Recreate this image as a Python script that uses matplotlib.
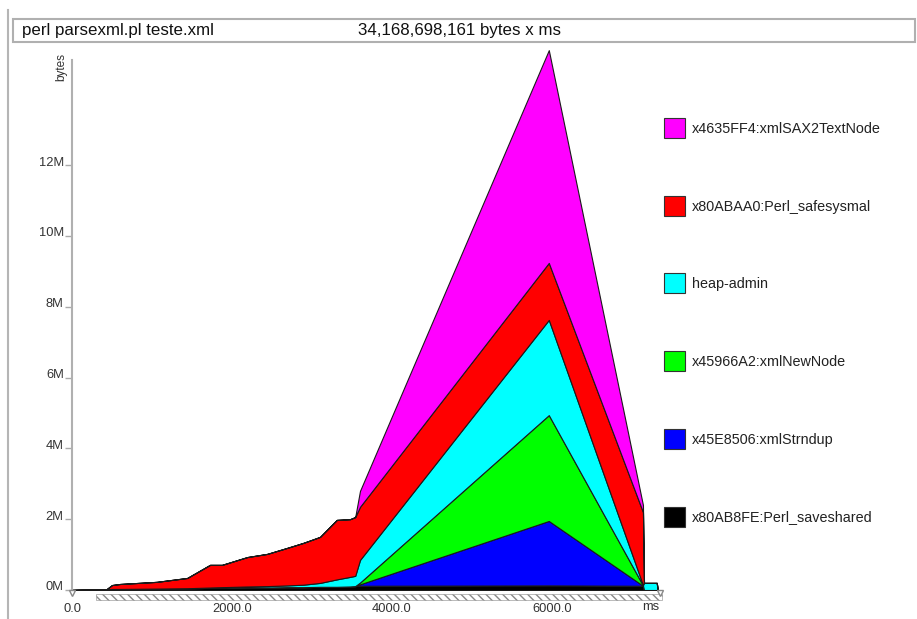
import numpy as np
import matplotlib
matplotlib.use("Agg")
import matplotlib.pyplot as plt
from matplotlib.patches import Rectangle
from matplotlib.lines import Line2D
from matplotlib.transforms import ScaledTranslation

plt.rcParams['font.family'] = ['Liberation Sans', 'DejaVu Sans']

#---DATA (time in ms, memory in MB)

t_ms = [0, 430, 500, 600, 1060, 1440, 1725, 1875, 2190, 2440, 2690,
        2890, 3100, 3310, 3475, 3540, 3600, 5960, 7137, 7150, 7310, 7320]

saveshared = [0, 0.02, 0.03, 0.03, 0.04, 0.05, 0.06, 0.06, 0.07, 0.07, 0.08,
              0.08, 0.09, 0.09, 0.10, 0.11, 0.12, 0.13, 0.12, 0, 0, 0]
strndup = [0, 0, 0, 0, 0, 0, 0, 0, 0, 0, 0,
           0, 0, 0, 0, 0, 0.04, 1.82, 0, 0, 0, 0]
newnode = [0, 0, 0, 0, 0, 0, 0, 0, 0, 0, 0,
           0, 0, 0, 0, 0, 0.05, 2.99, 0.01, 0, 0, 0]
heap_admin = [0, 0, 0, 0, 0, 0, 0.01, 0.02, 0.03, 0.04, 0.05,
              0.07, 0.11, 0.21, 0.27, 0.29, 0.64, 2.69, 0.01, 0.2, 0.2, 0]
safesysmal = [0, 0, 0.11, 0.14, 0.19, 0.29, 0.64, 0.63, 0.83, 0.91, 1.06,
              1.18, 1.30, 1.68, 1.63, 1.66, 1.50, 1.61, 2.06, 0, 0, 0]
textnode = [0, 0, 0, 0, 0, 0, 0, 0, 0, 0, 0,
            0, 0, 0, 0, 0, 0.45, 6.01, 0.2, 0, 0, 0]

labels = ["x80AB8FE:Perl_saveshared", "x45E8506:xmlStrndup",
          "x45966A2:xmlNewNode", "heap-admin",
          "x80ABAA0:Perl_safesysmal", "x4635FF4:xmlSAX2TextNode"]
colors = ["#000000", "#0000ff", "#00ff00", "#00ffff", "#ff0000", "#ff00ff"]

ytick_vals = [0, 2, 4, 6, 8, 10, 12]
xtick_vals = [0, 2000, 4000, 6000]

W, H = 917, 619


def fx(x):
    return x / W


def fy(y):
    return 1 - y / H


#--- Plot

fig = plt.figure(figsize=(W / 100, H / 100), dpi=100)

# outer frame + title box
fig.add_artist(Line2D([fx(8), fx(8)], [fy(10), fy(619)], color='#b5b5b5', lw=1.5))
fig.add_artist(Rectangle((fx(13), fy(42)), fx(902), 23 / H, transform=fig.transFigure,
                         facecolor='white', edgecolor='#b0b0b0', lw=1.5))
fig.text(fx(22), fy(30), "perl parsexml.pl teste.xml", fontsize=12.2,
         va='center', ha='left', color='#111')
fig.text(fx(358), fy(30), "34,168,698,161 bytes x ms", fontsize=12.2,
         va='center', ha='left', color='#111')

px_per_mb = 35.4
ax = fig.add_axes([fx(72), 1 - 590 / H, 600 / W, 545 / H])
ax.set_xlim(0, 7500)
ax.set_ylim(0, 545 / px_per_mb)
for s in ax.spines.values():
    s.set_visible(False)

polys = ax.stackplot(t_ms, saveshared, strndup, newnode, heap_admin, safesysmal, textnode,
                     colors=colors, edgecolor='#1a1a1a', linewidth=0.8)
for p in polys:
    p.set_joinstyle('round')

# y axis line
ax.plot([0, 0], [0, 530 / px_per_mb], color='#b0b0b0', lw=1.5, clip_on=False)

ax.set_yticks(ytick_vals)
ax.set_yticklabels([f"{v}M" for v in ytick_vals])
ax.tick_params(axis='y', length=5, width=1, color='#aaaaaa', labelsize=9.3,
               labelcolor='#333333', pad=1)
for lab in ax.get_yticklabels():
    lab.set_transform(lab.get_transform() + ScaledTranslation(0, 3 / 72, fig.dpi_scale_trans))

ax.set_xticks(xtick_vals)
ax.set_xticklabels([f"{v:.1f}" for v in xtick_vals])
ax.tick_params(axis='x', length=0, labelsize=9.3, labelcolor='#333333', pad=9)

fig.text(fx(651), fy(607), "ms", fontsize=9.3, ha='center', va='center', color='#333')
fig.text(fx(61), fy(67), "bytes", fontsize=8.5, rotation=90, ha='center', va='center',
         color='#333')

# snapshot marker band under the axis
ax.add_patch(Rectangle((300, -0.28), 7080, 0.17, facecolor='white', edgecolor='#888888',
                       hatch='\\\\\\\\', lw=0.4, clip_on=False))
ax.plot([0, 7350], [-0.08, -0.08], linestyle='none', marker='v', markersize=5,
        markerfacecolor='white', markeredgecolor='#888888', clip_on=False)

# legend, top entry first
for i, (lab, col) in enumerate(zip(labels[::-1], colors[::-1])):
    yc = 128 + 77.7 * i
    fig.add_artist(Rectangle((fx(664), fy(yc + 10)), 21 / W, 20 / H,
                             transform=fig.transFigure, facecolor=col,
                             edgecolor='#333333', lw=0.8))
    fig.text(fx(692), fy(yc + 1), lab, fontsize=10.4, ha='left', va='center', color='#222')

fig.savefig("out.png", dpi=100)
